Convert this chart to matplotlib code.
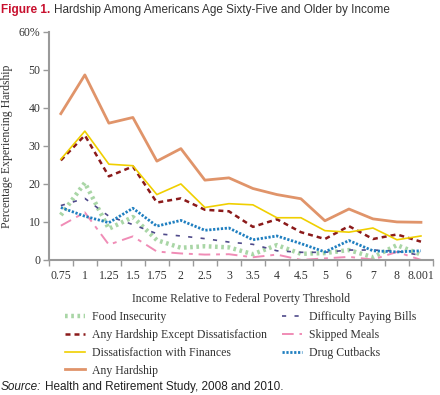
import matplotlib.pyplot as plt
import numpy as np

# income categories (ratio to poverty threshold)
cats = ["0.75", "1", "1.25", "1.5", "1.75", "2", "2.5", "3", "3.5",
        "4", "4.5", "5", "6", "7", "8", "8.001"]

food_insecurity = [11.8, 20.3, 8.2, 11.3, 5.2, 3.2, 3.6, 3.3, 1.5, 3.9, 1.6, 1.8, 2.6, 0.7, 3.9, 1.4]
difficulty_bills = [14.3, 16.2, 11.5, 9.3, 6.9, 6.3, 5.6, 4.7, 4.1, 2.4, 2.0, 2.0, 2.6, 2.6, 2.3, 1.2]
any_except_dissat = [26.2, 32.8, 22.0, 24.6, 15.1, 16.2, 13.2, 12.8, 8.7, 10.7, 7.3, 5.5, 8.9, 5.5, 6.7, 4.8]
skipped_meals = [9.0, 12.5, 4.0, 6.2, 2.2, 1.7, 1.4, 1.5, 0.7, 1.4, 0.0, 0.4, 0.8, 0.1, 2.1, 0.0]
dissat_finances = [26.5, 33.9, 25.2, 24.8, 17.2, 20.0, 13.8, 14.8, 14.5, 11.1, 11.1, 7.7, 7.3, 8.4, 5.3, 6.3]
drug_cutbacks = [13.8, 11.5, 9.8, 13.6, 8.9, 10.4, 7.8, 8.4, 5.3, 6.3, 4.3, 2.1, 5.1, 2.4, 2.1, 2.4]
any_hardship = [38.5, 48.7, 36.0, 37.5, 26.0, 29.3, 21.0, 21.6, 18.8, 17.2, 16.1, 10.3, 13.4, 10.8, 10.0, 9.9]

serif = "Liberation Serif"
sans = "Liberation Sans"
grey = "#9a9a9a"
txt = "#333333"

fig = plt.figure(figsize=(4.4, 3.95), dpi=100)
ax = fig.add_axes([0.111, 0.342, 0.873, 0.577])
x = np.arange(len(cats))

l_food, = ax.plot(x, food_insecurity, color="#a9d6a6", lw=3.2, ls=(0, (0.6, 0.8)), label="Food Insecurity")
l_diff, = ax.plot(x, difficulty_bills, color="#4f4a8a", lw=1.2, ls=(0, (2.5, 5)), label="Difficulty Paying Bills")
l_skip, = ax.plot(x, skipped_meals, color="#f08cb6", lw=1.4, ls=(0, (6, 3, 2, 3)), label="Skipped Meals")
l_drug, = ax.plot(x, drug_cutbacks, color="#1f7fc0", lw=2.0, ls=(0, (0.8, 0.6)), label="Drug Cutbacks")
l_exc, = ax.plot(x, any_except_dissat, color="#8b1a1a", lw=1.8, ls=(0, (2, 1.6)), label="Any Hardship Except Dissatisfaction")
l_dis, = ax.plot(x, dissat_finances, color="#f0cf00", lw=1.2, label="Dissatisfaction with Finances")
l_any, = ax.plot(x, any_hardship, color="#e0946a", lw=2.0, label="Any Hardship")

ax.set_xlim(-0.5, len(cats) - 0.5)
ax.set_ylim(0, 60)
ax.set_xticks(np.arange(-0.5, len(cats), 1.0))
ax.set_xticklabels([])
ax.set_xticks(x, minor=True)
ax.set_xticklabels(cats, minor=True, fontfamily=serif, fontsize=8.5, color=txt)
ax.tick_params(axis="x", which="minor", length=0, pad=7)
ax.tick_params(axis="x", which="major", length=4, color=grey, width=1)
ax.set_yticks(range(0, 61, 10))
ax.set_yticklabels(["0", "10", "20", "30", "40", "50", "60%"], fontfamily=serif, fontsize=8.5, color=txt)
ax.tick_params(axis="y", length=4, color=grey, width=1, pad=2)

for s in ["top", "right"]:
    ax.spines[s].set_visible(False)
for s in ["left", "bottom"]:
    ax.spines[s].set_color(grey)
    ax.spines[s].set_linewidth(1.5)

ax.set_xlabel("Income Relative to Federal Poverty Threshold", fontfamily=serif, fontsize=8.5, color=txt, labelpad=8)
ax.set_ylabel("Percentage Experiencing Hardship", fontfamily=serif, fontsize=8.5, color=txt, labelpad=4)

handles = [l_food, l_exc, l_dis, l_any, l_diff, l_skip, l_drug]
fig.legend(handles=handles, labels=[h.get_label() for h in handles], ncol=2,
           loc="upper left", bbox_to_anchor=(0.148, 0.213), frameon=False,
           prop={"family": serif, "size": 8.5}, handlelength=1.7, handletextpad=0.55,
           columnspacing=1.3, labelspacing=0.5, borderaxespad=0, borderpad=0,
           labelcolor=txt)

# title and source: two pieces each, second placed right after the first
fig.canvas.draw()
r = fig.canvas.get_renderer()
t1 = fig.text(0.002, 0.99, "Figure 1.", color="#c8102e", fontsize=8.5, fontweight="bold",
              family=sans, va="top", ha="left")
w = t1.get_window_extent(r).x1 / fig.bbox.width
fig.text(w + 0.008, 0.99, "Hardship Among Americans Age Sixty-Five and Older by Income",
         color=txt, fontsize=8.5, family=sans, va="top", ha="left")
s1 = fig.text(0.002, 0.004, "Source:", fontsize=8.5, style="italic", family=sans, color="#222222", va="bottom")
w = s1.get_window_extent(r).x1 / fig.bbox.width
fig.text(w + 0.008, 0.004, "Health and Retirement Study, 2008 and 2010.", fontsize=8.5,
         family=sans, color="#222222", va="bottom")

fig.savefig("out.png", dpi=100)
